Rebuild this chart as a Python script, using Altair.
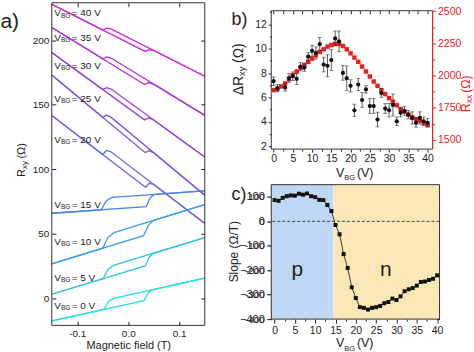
import altair as alt
import pandas as pd

FONT = "Liberation Sans"
INK = "#222222"
FRAME = "#333333"
RED = "#e8211f"
BLUE = "#bed8f6"
YELLOW = "#fbe8b6"

# ---------------- panel a : R_xy(B) hysteresis loops ----------------
gate_a = [0, 5, 10, 15, 20, 25, 30, 35, 40]
curve_colors = ["#27dde6", "#2fc3ea", "#3a9fe9", "#4c84e6", "#6a6ce6",
                "#8054e2", "#9b3fdc", "#b92ed9", "#da1fdc"]
up_B = [
    [-0.15, 0.031, 0.039, 0.047, 0.15],
    [-0.15, 0.033, 0.041, 0.049, 0.15],
    [-0.15, 0.030, 0.040, 0.050, 0.15],
    [-0.15, 0.035, 0.043, 0.051, 0.15],
    [-0.15, 0.034, 0.041, 0.050, 0.15],
    [-0.15, 0.033, 0.041, 0.050, 0.15],
    [-0.15, 0.032, 0.040, 0.050, 0.15],
    [-0.15, 0.032, 0.040, 0.050, 0.15],
    [-0.15, 0.033, 0.041, 0.050, 0.15],
]
up_R = [
    [-17.4, -1.7, 4.3, 6.7, 15.7],
    [3.3, 25.2, 32.0, 34.9, 47.1],
    [26.8, 48.7, 57.0, 60.5, 72.7],
    [66.0, 71.1, 78.1, 80.6, 83.3],
    [141.7, 86.1, 89.2, 88.3, 58.1],
    [173.0, 113.0, 114.4, 112.8, 80.0],
    [190.5, 138.3, 139.8, 138.2, 109.5],
    [209.8, 165.7, 167.2, 166.0, 141.8],
    [227.8, 191.3, 192.7, 192.0, 172.1],
]
down_B = [
    [-0.15, -0.048, -0.039, -0.029, 0.15],
    [-0.15, -0.049, -0.040, -0.029, 0.15],
    [-0.15, -0.050, -0.040, -0.028, 0.15],
    [-0.15, -0.053, -0.043, -0.032, 0.15],
    [-0.15, -0.050, -0.043, -0.034, 0.15],
    [-0.15, -0.050, -0.043, -0.034, 0.15],
    [-0.15, -0.050, -0.042, -0.033, 0.15],
    [-0.15, -0.050, -0.042, -0.033, 0.15],
    [-0.15, -0.050, -0.042, -0.033, 0.15],
]
down_R = [
    [-17.4, -8.5, -2.5, 0.1, 15.7],
    [3.3, 15.4, 22.3, 25.6, 47.1],
    [26.8, 39.0, 47.2, 51.0, 72.7],
    [66.0, 68.7, 75.7, 78.3, 83.3],
    [141.7, 111.5, 114.6, 113.6, 58.1],
    [173.0, 140.2, 142.0, 140.4, 80.0],
    [190.5, 161.9, 163.3, 162.0, 109.5],
    [209.8, 185.6, 187.1, 186.0, 141.8],
    [227.8, 207.9, 209.3, 208.5, 172.1],
]
label_R = [-5.6, 16.2, 44.0, 72.7, 122.9, 154.5, 180.2, 201.9, 220.8]
label_B = -0.145
ticks_B = [-0.1, 0.0, 0.1]
ticks_Rxy = [0, 50, 100, 150, 200]

# ---------------- panel b ----------------
gate_b = [0, 1, 3, 4, 5, 6, 7, 8, 9, 10, 11, 12, 13, 14, 15, 16, 17, 18, 19, 20,
          21, 22, 23, 24, 25, 26, 27, 28, 29, 30, 31, 32, 33, 34, 35, 36, 37, 38, 39, 40]
dRxy = [7.34, 6.77, 6.83, 7.6, 7.75, 7.53, 8.54, 8.45, 9.35, 9.83, 9.65, 10.37, 8.7, 8.6,
        9.07, 10.84, 10.6, 8.02, 7.59, 6.96, 4.96, 7.07, 5.8, 6.67, 5.31, 5.31, 4.2, 6.37,
        5.1, 4.96, 5.4, 4.06, 4.76, 4.9, 4.6, 4.33, 3.93, 4.33, 4.06, 3.93]
dRxy_err = [0.35, 0.3, 0.3, 0.35, 0.35, 0.45, 0.35, 0.3, 0.35, 0.45, 0.5, 0.55, 0.6, 0.9,
            0.85, 0.6, 0.85, 0.6, 1.0, 0.5, 0.5, 0.5, 0.6, 0.3, 0.6, 0.6, 0.6, 0.35, 0.4,
            0.55, 0.9, 0.35, 0.35, 0.35, 0.35, 0.5, 0.35, 0.5, 0.35, 0.35]
gate_r = [0, 1, 2, 3, 4, 5, 6, 7, 8, 9, 10, 11, 12, 13, 14, 15, 16, 17, 18, 19, 20,
          21, 22, 23, 24, 25, 26, 27, 28, 29, 30, 31, 32, 33, 34, 35, 36, 37, 38, 39, 40]
Rxx = [1886, 1894, 1915, 1938, 1971, 2002, 2031, 2059, 2082, 2106, 2131, 2157, 2183, 2203,
       2224, 2237, 2245, 2245, 2229, 2203, 2172, 2139, 2106, 2069, 2031, 1992, 1953, 1920,
       1886, 1855, 1824, 1797, 1768, 1739, 1719, 1696, 1675, 1662, 1650, 1631, 1616]
# tick positions (major ones get labels, the others are minor ticks)
ticks_V = [0, 2.5, 5, 7.5, 10, 12.5, 15, 17.5, 20, 22.5, 25, 27.5, 30, 32.5, 35, 37.5, 40]
ticks_dR = [2, 3, 4, 5, 6, 7, 8, 9, 10, 11, 12, 13]
ticks_Rxx = [1500, 1625, 1750, 1875, 2000, 2125, 2250, 2375, 2500]

# ---------------- panel c ----------------
gate_c = gate_r
slope = [87, 84, 96, 103, 106, 105, 113, 109, 114, 103, 99, 88, 87, 67, 42, -15, -53, -134,
         -191, -270, -314, -351, -354, -361, -354, -351, -346, -335, -330, -316, -322, -307,
         -286, -278, -273, -263, -248, -246, -240, -235, -221]
pn_boundary = 14.5
pn_labels = ["p", "n"]
pn_label_V = [5.6, 27.4]
pn_label_S = [-224, -224]
ticks_S_major = [-400, -300, -200, -100, 0, 100]
ticks_S = [-400, -350, -300, -250, -200, -150, -100, -50, 0, 50, 100]

one = pd.DataFrame({"k": [0]})


def txt(s, x, y, size, color=INK, angle=None, dx=None, dy=None,
        align="left", baseline="alphabetic"):
    kw = dict(text=s, font=FONT, fontSize=size, color=color, align=align, baseline=baseline)
    if angle is not None:
        kw["angle"] = angle
    if dx is not None:
        kw["dx"] = dx
    if dy is not None:
        kw["dy"] = dy
    return alt.Chart(one).mark_text(**kw).encode(x=alt.value(x), y=alt.value(y))


def frame(xs, ys, xdom, ydom, yaxis=None, xaxis=None):
    df = pd.DataFrame({"fx0": [xdom[0]], "fx1": [xdom[1]], "fy0": [ydom[0]], "fy1": [ydom[1]]})
    return alt.Chart(df).mark_rect(filled=False, color=FRAME, strokeWidth=1).encode(
        x=alt.X("fx0:Q", scale=xs, axis=xaxis), x2="fx1:Q",
        y=alt.Y("fy0:Q", scale=ys, axis=yaxis), y2="fy1:Q")


def minor_size(step, major, minor):
    return {"condition": {"test": "datum.value %% %s != 0" % step, "value": minor}, "value": major}


def major_label(step, minus=False):
    lab = "replace(datum.label, '\u2212', '-')" if minus else "datum.label"
    return "datum.value %% %s == 0 ? %s : ''" % (step, lab)


MINUS = "replace(datum.label, '\u2212', '-')"
tick_in = dict(domain=False, grid=False, tickColor=INK, tickSize=4, offset=-4,
               labels=False, title=None)
tick_in3 = dict(domain=False, grid=False, tickColor=INK, tickSize=3, offset=-3,
                labels=False, title=None)

# ================= panel a =================
rows = []
for i, v in enumerate(gate_a):
    for br, Bs, Rs in (("up", up_B[i], up_R[i]), ("down", down_B[i], down_R[i])):
        for k, (b, r) in enumerate(zip(Bs, Rs)):
            rows.append(dict(gate=v, series=f"{v}{br}", k=k, B=b, R=r))
df_a = pd.DataFrame(rows)

WA, HA = 153.6, 324
xa_dom = [-0.15, 0.15]
ya_dom = [-20.8, 229]
xa = alt.Scale(domain=xa_dom, nice=False, zero=False)
ya = alt.Scale(domain=ya_dom, nice=False, zero=False)

lines_a = alt.Chart(df_a).mark_line(strokeWidth=1.3, clip=True).encode(
    x=alt.X("B:Q", scale=xa, axis=alt.Axis(
        orient="bottom", values=ticks_B, format=".1f", labelExpr=MINUS,
        domain=False, grid=False, tickColor=INK, tickSize=4, offset=-4,
        labelFontSize=10, labelPadding=3, title="Magnetic field (T)",
        titleFontSize=11, titlePadding=1)),
    y=alt.Y("R:Q", scale=ya, axis=alt.Axis(
        orient="left", values=ticks_Rxy, domain=False, grid=False, tickColor=INK,
        tickSize=4, offset=-4, labelFontSize=10, labelPadding=3, title=None)),
    color=alt.Color("gate:N", scale=alt.Scale(domain=gate_a, range=curve_colors), legend=None),
    detail="series:N",
    order="k:Q",
)
ticks_a = alt.Chart(df_a).mark_point(opacity=0).encode(
    x=alt.X("B:Q", scale=xa, axis=alt.Axis(orient="top", values=ticks_B, **tick_in)),
    y=alt.Y("R:Q", scale=ya, axis=alt.Axis(orient="right", values=ticks_Rxy, **tick_in)),
)
df_lab = pd.DataFrame({"gate": gate_a, "R": label_R})
df_lab["B"] = label_B
df_lab["rest"] = ["= %d V" % g for g in gate_a]
lab_base = alt.Chart(df_lab).encode(
    x=alt.X("B:Q", scale=xa, axis=None), y=alt.Y("R:Q", scale=ya, axis=None))
lab_V = lab_base.mark_text(text="V", font=FONT, fontSize=10, color=INK,
                           align="left", baseline="middle")
lab_BG = lab_base.mark_text(text="BG", font=FONT, fontSize=6.5, color=INK,
                            align="left", baseline="middle", dx=6.6, dy=2.5)
lab_rest = lab_base.mark_text(font=FONT, fontSize=10, color=INK, align="left",
                              baseline="middle", dx=17.5).encode(text="rest:N")

panel_a = alt.layer(
    lines_a, ticks_a, frame(xa, ya, xa_dom, ya_dom), lab_V, lab_BG, lab_rest,
    txt("a)", -51.5, 25, 21),
    txt("R", -29.7, 175, 11, angle=270, baseline="middle"),
    txt("xy", -29.7, 175, 8, angle=270, dx=8, dy=2.5, baseline="middle"),
    txt("(\u03a9)", -29.7, 175, 11, angle=270, dx=18.5, baseline="middle"),
).properties(width=WA, height=HA)

# ================= panel b =================
# frame occupies the lower 139 px of a 147 px tall view (8 px free on top)
WB, HB = 162, 147
xb_dom = [-0.6, 41.3]
yb_dom = [1.78, 13.11]
yr_dom = [1428, 2503]
xb = alt.Scale(domain=xb_dom, nice=False, zero=False)
yb = alt.Scale(domain=[yb_dom[0], 13.762], nice=False, zero=False)
yr = alt.Scale(domain=[yr_dom[0], 2564.9], nice=False, zero=False)

df_r = pd.DataFrame({"V": gate_r, "Rxx": Rxx})
df_d = pd.DataFrame({"V": gate_b, "d": dRxy, "e": dRxy_err})
df_d["lo"] = df_d["d"] - df_d["e"]
df_d["hi"] = df_d["d"] + df_d["e"]

ax_left_b = alt.Axis(orient="left", values=ticks_dR, labelExpr=major_label(2),
                     domain=False, grid=False, tickColor=INK, tickSize=minor_size(2, 3, 2),
                     labelPadding=2, labelFontSize=10.5, title=None)
ax_right_b = alt.Axis(orient="right", values=ticks_Rxx, format="d", labelExpr=major_label(250),
                      domain=False, tickColor=RED, labelColor=RED,
                      tickSize=minor_size(250, 3, 2), labelPadding=2,
                      labelFontSize=10.5, grid=False, title=None)
ax_bottom_b = alt.Axis(orient="bottom", values=ticks_V, labelExpr=major_label(5),
                       domain=False, grid=False, tickColor=INK, tickSize=minor_size(5, 3, 2),
                       labelPadding=1, labelFontSize=10.5, title=None)

frame_b = frame(xb, yb, xb_dom, yb_dom, yaxis=ax_left_b, xaxis=ax_bottom_b)
red_sq = alt.Chart(df_r).mark_square(size=20, color=RED, opacity=1).encode(
    x=alt.X("V:Q", scale=xb, axis=None),
    y=alt.Y("Rxx:Q", scale=yr, axis=ax_right_b))
df_redge = pd.DataFrame({"x": [xb_dom[1]], "y0": [yr_dom[0]], "y1": [yr_dom[1]]})
red_edge = alt.Chart(df_redge).mark_rule(color=RED, strokeWidth=1.2).encode(
    x=alt.X("x:Q", scale=xb, axis=None),
    y=alt.Y("y0:Q", scale=yr, axis=None), y2="y1:Q")
bars = alt.Chart(df_d).mark_rule(color="#333333", strokeWidth=0.8).encode(
    x=alt.X("V:Q", scale=xb, axis=None),
    y=alt.Y("lo:Q", scale=yb, axis=None), y2="hi:Q")
cap_lo = alt.Chart(df_d).mark_tick(orient="horizontal", size=4, thickness=0.8,
                                   color="#333333").encode(
    x=alt.X("V:Q", scale=xb, axis=None), y=alt.Y("lo:Q", scale=yb, axis=None))
cap_hi = alt.Chart(df_d).mark_tick(orient="horizontal", size=4, thickness=0.8,
                                   color="#333333").encode(
    x=alt.X("V:Q", scale=xb, axis=None), y=alt.Y("hi:Q", scale=yb, axis=None))
dots = alt.Chart(df_d).mark_circle(size=18, color="#111111", opacity=1).encode(
    x=alt.X("V:Q", scale=xb, axis=None), y=alt.Y("d:Q", scale=yb, axis=None))
top_b = alt.Chart(df_r).mark_point(opacity=0).encode(
    x=alt.X("V:Q", scale=xb, axis=alt.Axis(
        orient="top", values=ticks_V, domain=False, grid=False, tickColor=INK,
        tickSize=3, offset=-11, labels=False, title=None)))

panel_b = alt.layer(
    frame_b, red_sq, red_edge, bars, cap_lo, cap_hi, dots, top_b,
    txt("b)", -40, 22, 18),
    txt("\u0394R", -32, 93, 14, angle=270, baseline="middle"),
    txt("xy", -32, 93, 9.5, angle=270, dx=19.5, dy=3, baseline="middle"),
    txt("(\u03a9)", -32, 93, 14, angle=270, dx=32.5, baseline="middle"),
    txt("R", 196, 110, 12.5, color=RED, angle=270, baseline="middle"),
    txt("xx", 196, 110, 8.5, color=RED, angle=270, dx=9, dy=2.5, baseline="middle"),
    txt("(\u03a9)", 196, 110, 12.5, color=RED, angle=270, dx=19.5, baseline="middle"),
    txt("V", 65, 174.5, 12.5),
    txt("BG", 65, 174.5, 7.5, dx=8.3, dy=3.5),
    txt("(V)", 65, 174.5, 12.5, dx=21),
).resolve_scale(y="independent").properties(width=WB, height=HB)

# ================= panel c =================
WC, HC = 169, 135
xc_dom = [-0.81, 40.6]
yc_dom = [-400, 150]
xc = alt.Scale(domain=xc_dom, nice=False, zero=False)
yc = alt.Scale(domain=yc_dom, nice=False, zero=False)

df_p = pd.DataFrame({"x0": [xc_dom[0]], "x1": [pn_boundary], "y0": [yc_dom[0]], "y1": [yc_dom[1]]})
df_n = pd.DataFrame({"x0": [pn_boundary], "x1": [xc_dom[1]], "y0": [yc_dom[0]], "y1": [yc_dom[1]]})
reg_p = alt.Chart(df_p).mark_rect(color=BLUE).encode(
    x=alt.X("x0:Q", scale=xc, axis=None), x2="x1:Q",
    y=alt.Y("y0:Q", scale=yc, axis=None), y2="y1:Q")
reg_n = alt.Chart(df_n).mark_rect(color=YELLOW).encode(
    x=alt.X("x0:Q", scale=xc, axis=None), x2="x1:Q",
    y=alt.Y("y0:Q", scale=yc, axis=None), y2="y1:Q")
zero_line = alt.Chart(one).mark_rule(color="#333333", strokeDash=[3, 2], strokeWidth=0.9).encode(
    y=alt.datum(0, scale=yc))
df_c = pd.DataFrame({"V": gate_c, "S": slope})
line_c = alt.Chart(df_c).mark_line(color="#111111", strokeWidth=0.8).encode(
    x=alt.X("V:Q", scale=xc, axis=alt.Axis(
        orient="bottom", values=ticks_V, labelExpr=major_label(5), domain=False, grid=False,
        tickColor=INK, tickSize=minor_size(5, 4, 2), labelPadding=2, labelFontSize=10.5,
        title=None)),
    y=alt.Y("S:Q", scale=yc, axis=alt.Axis(
        orient="left", values=ticks_S_major, labelExpr=MINUS, domain=False,
        grid=False, tickColor=INK, tickSize=4, labelPadding=3,
        labelFontSize=10, title=None)))
sq_c = alt.Chart(df_c).mark_square(size=16, color="#111111", opacity=1).encode(
    x=alt.X("V:Q", scale=xc, axis=None), y=alt.Y("S:Q", scale=yc, axis=None))
df_pn = pd.DataFrame({"t": pn_labels, "V": pn_label_V, "S": pn_label_S})
pn_text = alt.Chart(df_pn).mark_text(font=FONT, fontSize=21, color=INK, align="center",
                                     baseline="alphabetic").encode(
    x=alt.X("V:Q", scale=xc, axis=None), y=alt.Y("S:Q", scale=yc, axis=None), text="t:N")
ticks_c = alt.Chart(df_c).mark_point(opacity=0).encode(
    x=alt.X("V:Q", scale=xc, axis=alt.Axis(orient="top", values=ticks_V, **tick_in3)),
    y=alt.Y("S:Q", scale=yc, axis=alt.Axis(orient="right", values=ticks_S, **tick_in3)))

panel_c = alt.layer(
    reg_p, reg_n, zero_line, line_c, sq_c, pn_text, ticks_c, frame(xc, yc, xc_dom, yc_dom),
    txt("c)", -40, 15, 18),
    txt("Slope (\u03a9/T)", -37.5, 67.3, 12, angle=270, align="center", baseline="middle"),
    txt("V", 65, 163.5, 12.5),
    txt("BG", 65, 163.5, 7.5, dx=8.3, dy=3.5),
    txt("(V)", 65, 163.5, 12.5, dx=21),
).properties(width=WC, height=HC)

right = alt.vconcat(panel_b, panel_c, spacing=35.7, bounds="flush")

chart = alt.hconcat(panel_a, right, spacing=66.4, bounds="flush").properties(
    padding=0
).configure_view(strokeOpacity=0).configure_axis(
    labelFont=FONT, labelColor=INK, labelFontSize=11, titleFont=FONT,
    titleFontWeight="normal", titleColor=INK)

chart.save("out.html", embed_options={"renderer": "svg", "actions": False})
